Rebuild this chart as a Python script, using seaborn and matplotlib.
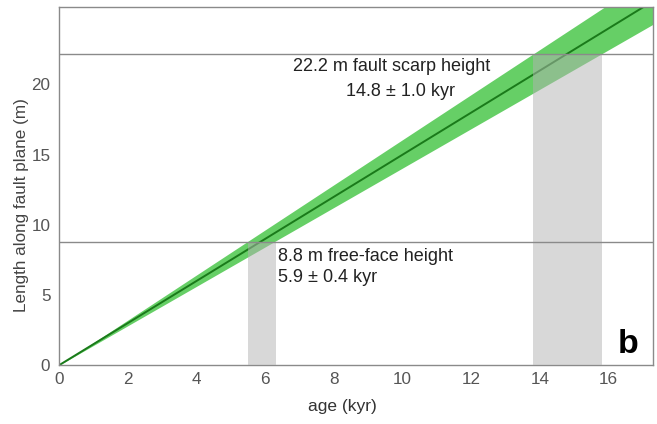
import matplotlib
matplotlib.use("Agg")
import matplotlib.pyplot as plt
import seaborn as sns
import pandas as pd

# ---- data ----
line_age = [0.0, 17.3]          # kyr
line_center = [0.0, 25.95]      # m
line_upper = [0.0, 27.8]        # m
line_lower = [0.0, 24.3]        # m

heights = [8.8, 22.2]                       # horizontal reference lines (m)
box_left = [5.5, 13.8]                      # age ranges (kyr)
box_right = [6.3, 15.8]
labels_line1 = ["8.8 m free-face height", "22.2 m fault scarp height"]
labels_line2 = ["5.9 \u00b1 0.4 kyr", "14.8 \u00b1 1.0 kyr"]

x_ticks = [0, 2, 4, 6, 8, 10, 12, 14, 16]
y_ticks = [0, 5, 10, 15, 20]

sns.set_style("white")
plt.rcParams['font.family'] = ['Liberation Sans', 'DejaVu Sans']

fig = plt.figure(figsize=(6.57, 4.24), dpi=100)
ax = fig.add_axes([0.0903, 0.139, 0.9041, 0.8438])

df = pd.DataFrame({"age": line_age, "len": line_center})

ax.fill_between(line_age, line_lower, line_upper, color="#66cf66", lw=0, zorder=1)
sns.lineplot(data=df, x="age", y="len", ax=ax, color="#1a7a1a", lw=1.4, zorder=2)

widths = [r - l for l, r in zip(box_left, box_right)]
ax.bar(box_left, heights, width=widths, align="edge", color="#b3b3b3", alpha=0.5,
       lw=0, zorder=3)

for h in heights:
    ax.axhline(h, color="#8a8a8a", lw=1.0, zorder=4)

txt_kw = dict(fontsize=13, color="#222222", zorder=5)
ax.text(6.38, 7.76, labels_line1[0], ha="left", va="center", **txt_kw)
ax.text(6.38, 6.27, labels_line2[0], ha="left", va="center", **txt_kw)
ax.text(9.69, 21.25, labels_line1[1], ha="center", va="center", **txt_kw)
ax.text(9.95, 19.52, labels_line2[1], ha="center", va="center", **txt_kw)

ax.text(16.56, 0.83, "b", fontsize=24.5, fontweight="bold", ha="center",
        va="baseline", color="black", zorder=5)

ax.set_xlim(0, 17.3)
ax.set_ylim(0, 25.5)
ax.set_xticks(x_ticks)
ax.set_yticks(y_ticks)
ax.tick_params(axis="both", direction="in", length=4, width=0.8, color="#8a8a8a",
               labelsize=12.3, labelcolor="#555555")
ax.tick_params(axis="x", pad=5)
ax.tick_params(axis="y", pad=6.5)
for s in ax.spines.values():
    s.set_color("#8a8a8a")
    s.set_linewidth(1.0)
    s.set_visible(True)

ax.set_xlabel("age (kyr)", fontsize=12.5, color="#333333")
ax.set_ylabel("Length along fault plane (m)", fontsize=12.3, color="#444444")
ax.xaxis.label.set_verticalalignment("center")
ax.yaxis.label.set_verticalalignment("center")
ax.xaxis.set_label_coords(0.476, -0.1165)
ax.yaxis.set_label_coords(-0.0635, 0.447)

fig.savefig("out.png", dpi=100)
